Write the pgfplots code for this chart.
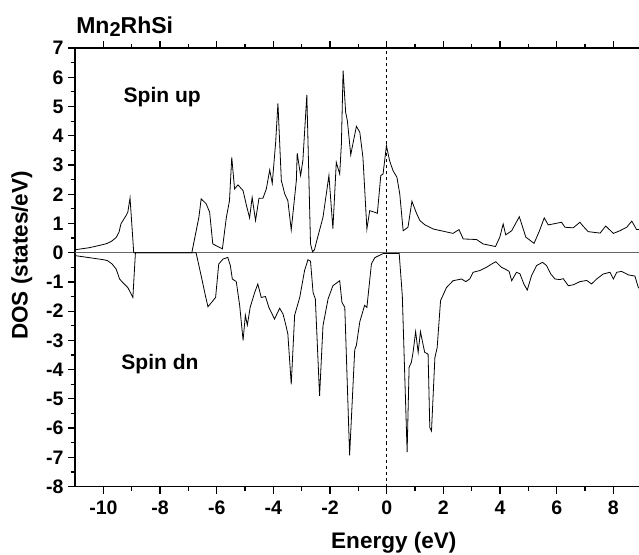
\documentclass[border=0pt]{standalone}
\usepackage{fontspec}
\setmainfont{Liberation Sans}
\usepackage{pgfplots}
\pgfplotsset{compat=1.18}

\begin{document}
\begin{tikzpicture}
\begin{axis}[
  scale only axis,
  width=566pt, height=438pt,
  xmin=-11, xmax=9, ymin=-8, ymax=7,
  xtick={-10,-8,...,8},
  xticklabels={-10,-8,-6,-4,-2,0,2,4,6,8},
  ytick={-8,-7,...,7},
  yticklabels={-8,-7,-6,-5,-4,-3,-2,-1,0,1,2,3,4,5,6,7},
  minor x tick num=1, minor y tick num=1,
  tick align=outside,
  xtick pos=both, ytick pos=left,
  major tick length=7pt, minor tick length=4.5pt,
  every tick/.style={black, line width=1.2pt},
  axis line style={line width=1.6pt},
  tick label style={font=\fontsize{19.5}{21}\selectfont\bfseries},
  xticklabel style={text height=14pt, text depth=0pt, yshift=-3pt},
  yticklabel style={xshift=-1pt},
  label style={font=\fontsize{22.5}{24}\selectfont\bfseries},
  xlabel={Energy (eV)},
  ylabel={DOS (states/eV)},
  xlabel style={at={(axis description cs:0.5625,-0.127)}, anchor=center},
  ylabel style={at={(axis description cs:-0.094,0.527)}, anchor=center},
  clip=true,
]
\addplot[gray!80!black, line width=0.8pt] coordinates {(-11,0) (9,0)};
\addplot[black, dashed, line width=0.8pt] coordinates {(0,-8) (0,7)};

% spin up
\addplot[black, line width=0.8pt] coordinates {
(-11,0.1) (-10.5,0.17) (-10,0.28) (-9.86,0.32) (-9.7,0.4) (-9.55,0.52) (-9.45,0.7)
(-9.38,0.99) (-9.2,1.27) (-9.14,1.38) (-9.06,1.87) (-8.93,0) (-6.88,0) (-6.63,1.21)
(-6.55,1.84) (-6.37,1.67) (-6.25,1.38) (-6.14,0.3) (-5.8,0.13) (-5.66,1.21) (-5.55,1.78)
(-5.47,3.26) (-5.37,2.18) (-5.25,2.32) (-5.07,2.12) (-4.95,1.61) (-4.84,1.19) (-4.75,1.89)
(-4.63,1.1) (-4.51,1.86) (-4.37,1.86) (-4.25,2.18) (-4.13,2.83) (-4.04,2.37) (-3.92,3.78)
(-3.84,5.11) (-3.72,2.47) (-3.6,2.01) (-3.49,1.78) (-3.37,0.78) (-3.19,2.47) (-3.16,3.40)
(-3.04,2.64) (-2.96,3.15) (-2.82,5.40) (-2.69,0.3) (-2.62,0.03) (-2.55,0.1) (-2.48,0.37)
(-2.25,1.21) (-2.04,2.64) (-1.9,0.82) (-1.78,3.09) (-1.66,2.69) (-1.6,3.72) (-1.54,6.23)
(-1.45,4.8) (-1.39,4.52) (-1.27,3.35) (-1.16,3.89) (-1.07,4.32) (-0.95,4.12) (-0.84,3.26)
(-0.7,0.81) (-0.6,1.44) (-0.33,1.35) (-0.21,2.64) (-0.13,2.69) (-0.01,3.66) (0.1,3.15)
(0.22,2.81) (0.36,2.58) (0.46,2.01) (0.58,0.75) (0.75,0.87) (0.89,1.76) (1.05,1.35)
(1.17,1.1) (1.35,0.95) (1.64,0.81) (2.34,0.66) (2.55,0.79) (2.7,0.47) (3.17,0.45) (3.4,0.3)
(3.84,0.21) (3.99,0.53) (4.11,0.98) (4.2,0.61) (4.41,0.75) (4.68,1.23) (4.91,0.53)
(5.2,0.32) (5.38,0.72) (5.56,1.19) (5.7,0.95) (6.17,1.04) (6.29,0.87) (6.58,0.85)
(6.82,1.04) (6.91,0.93) (7.11,0.72) (7.53,0.67) (7.73,0.91) (8.0,0.66) (8.23,0.75)
(8.47,0.87) (8.65,1.08) (8.82,0.79) (9,0.8)};

% spin down
\addplot[black, line width=0.8pt] coordinates {
(-11,-0.1) (-10.5,-0.17) (-10,-0.24) (-9.86,-0.27) (-9.7,-0.38) (-9.55,-0.56) (-9.43,-0.9)
(-9.32,-1.02) (-9.14,-1.19) (-8.96,-1.53) (-8.87,0) (-6.73,0) (-6.55,-0.79) (-6.4,-1.47)
(-6.31,-1.85) (-6.13,-1.64) (-6.04,-1.53) (-5.93,-0.39) (-5.78,-0.22) (-5.61,-0.16)
(-5.52,-0.44) (-5.45,-0.9) (-5.31,-0.99) (-5.19,-1.81) (-5.07,-3.0) (-4.99,-2.14)
(-4.92,-2.48) (-4.82,-1.87) (-4.66,-1.36) (-4.55,-1.07) (-4.43,-1.53) (-4.28,-1.5)
(-4.16,-1.87) (-3.96,-2.27) (-3.78,-1.9) (-3.66,-2.1) (-3.57,-2.44) (-3.49,-2.78)
(-3.37,-4.5) (-3.25,-2.14) (-3.07,-1.53) (-2.9,-0.61) (-2.78,-0.24) (-2.69,-0.29)
(-2.6,-1.36) (-2.52,-1.58) (-2.37,-4.9) (-2.25,-2.5) (-2.07,-1.58) (-1.9,-1.13)
(-1.66,-0.96) (-1.58,-1.7) (-1.48,-1.87) (-1.31,-6.93) (-1.13,-3.33) (-1.07,-3.16)
(-0.95,-2.36) (-0.78,-1.8) (-0.7,-1.87) (-0.54,-0.38) (-0.42,-0.17) (-0.13,-0.03)
(0.44,-0.03) (0.55,-1.47) (0.64,-4.32) (0.72,-6.82) (0.79,-3.92) (0.87,-3.75) (0.93,-3.41)
(1.02,-2.7) (1.11,-3.41) (1.19,-2.7) (1.34,-3.41) (1.46,-3.47) (1.52,-5.98) (1.58,-6.1)
(1.7,-3.59) (1.78,-3.25) (1.9,-1.64) (2.11,-1.19) (2.34,-0.96) (2.64,-0.9) (2.79,-0.99)
(2.93,-0.9) (3.05,-0.67) (3.29,-0.61) (3.52,-0.5) (3.7,-0.39) (3.85,-0.31) (4.05,-0.5)
(4.2,-0.57) (4.32,-0.64) (4.41,-0.96) (4.58,-0.67) (4.7,-0.72) (4.84,-1.07) (4.96,-1.28)
(5.11,-0.79) (5.29,-0.44) (5.5,-0.33) (5.64,-0.44) (5.79,-0.73) (5.94,-0.9) (6.11,-0.92)
(6.23,-0.89) (6.41,-1.13) (6.58,-1.1) (6.82,-0.99) (7.06,-0.95) (7.23,-1.07) (7.41,-0.9)
(7.64,-0.73) (7.88,-0.67) (8.0,-0.9) (8.12,-0.67) (8.29,-0.64) (8.53,-0.76) (8.76,-0.8)
(8.88,-1.19) (9,-1.3)};

\node[anchor=west, font=\fontsize{21}{22}\selectfont\bfseries] at (axis cs:-9.41,5.34) {Spin up};
\node[anchor=west, font=\fontsize{21}{22}\selectfont\bfseries] at (axis cs:-9.49,-3.81) {Spin dn};
\end{axis}
\node[anchor=base west, inner sep=0pt, font=\fontsize{23}{24}\selectfont\bfseries]
  at ([shift={(1pt,15pt)}]current axis.north west)
  {Mn\raisebox{-0.3ex}{\fontsize{20}{21}\selectfont 2}RhSi};
\pgfresetboundingbox
\path[use as bounding box] ([shift={(-75pt,-68pt)}]current axis.south west)
  rectangle ([shift={(-2.7pt,48pt)}]current axis.north east);
\end{tikzpicture}
\end{document}
